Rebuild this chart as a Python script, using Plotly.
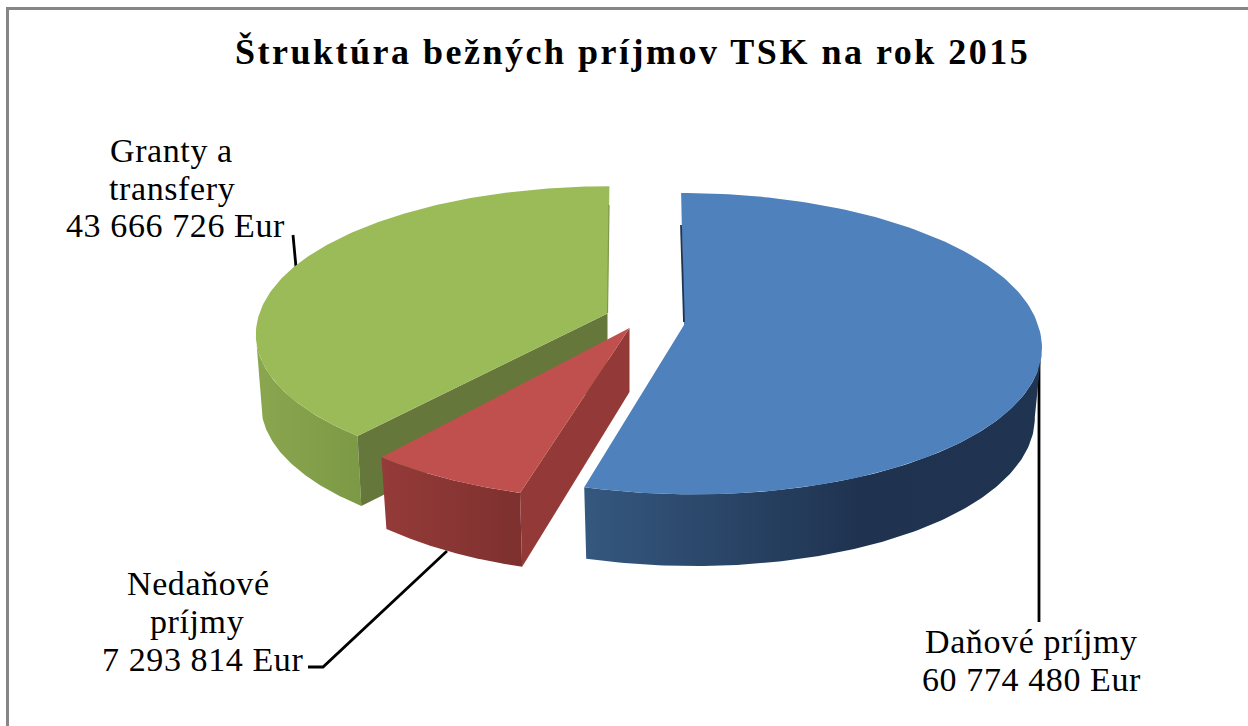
import numpy as np
import plotly.graph_objects as go

categories = ["Daňové príjmy", "Nedaňové príjmy", "Granty a transfery"]
values = [60774480, 7293814, 43666726]
title_text = "Štruktúra bežných príjmov TSK na rok 2015"
label_lines = [["Daňové príjmy", "60 774 480 Eur"],
               ["Nedaňové", "príjmy", "7 293 814 Eur"],
               ["Granty a", "transfery", "43 666 726 Eur"]]

W, H = 1248, 726
K = 0.124
RXS = [354, 354, 348]
RYS = [148.4, 151, 143]
APEX = [(684, 325), (629.5, 328), (607.5, 313.5)]
SHEAR_UP = [0.022, 0, -0.015]
SHEAR_DOWN = [0.06, 0, -0.05]
TOP = ["#4f81bd", "#c0504d", "#9bbb59"]
RIM = [[[0, "#35587f"], [0.6, "#1f3350"], [1, "#1f3450"]],
       [[0, "#953b39"], [1, "#7d302e"]],
       [[0, "#8aa64f"], [1, "#7c9945"]]]
WALL = [None, "#933a38", "#65773a"]
DEPTH0 = [70, 64, 70]
DEPTH1 = [0.01, 0.06, 0.0]
NARROW = [0.98, 0.98, 0.985]
LABEL_POS = [[(1031, 641), (1031, 679)],
             [(198, 583), (197, 621), (202, 659)],
             [(171, 150), (172, 188), (175, 225)]]
LEADERS = [[(1039, 342), (1039, 622)],
           [(308, 667), (323, 667), (447, 551)],
           [(293, 235), (296, 267)]]
SLIVERS = [[(684, 322), (681, 225), "#1e3450", 1.8], [(607.5, 313), (609, 205), "#7d9847", 1.2]]

total = sum(values)
edges = np.concatenate([[0], np.cumsum(values)]) / total * 2 * np.pi


def project(phi, i):
    s = -np.cos(phi)
    w = 1 - K * s
    dy = RYS[i] * s / w
    dx = RXS[i] * np.sin(phi) / w + np.where(dy < 0, SHEAR_UP[i], SHEAR_DOWN[i]) * dy
    return APEX[i][0] + dx, APEX[i][1] + dy


def drop(x, y, i):
    return (APEX[i][0] + (x - APEX[i][0]) * NARROW[i],
            y + DEPTH0[i] + DEPTH1[i] * (y - APEX[i][1]))


fig = go.Figure()
for line in LEADERS:
    fig.add_trace(go.Scatter(x=[p[0] for p in line], y=[p[1] for p in line], mode="lines",
                             line=dict(color="#000000", width=2.8), hoverinfo="skip"))

for i in [2, 0, 1]:
    a0, a1 = edges[i], edges[i + 1]
    ap = APEX[i]
    # visible outer wall: from the arc's silhouette point on the right to the one on the left
    t = np.linspace(a0, a1, 240)
    x, y = project(t, i)
    lo = int(np.argmax(x)) if i == 0 else 0
    hi = int(np.argmin(x)) + 1 if i == 2 else len(t)
    x, y = x[lo:hi], y[lo:hi]
    bx, by = drop(x, y, i)
    fig.add_trace(go.Scatter(
        x=np.r_[x, bx[::-1]], y=np.r_[y, by[::-1]], mode="lines", fill="toself",
        line=dict(width=0), hoverinfo="skip",
        fillgradient=dict(type="horizontal", colorscale=RIM[i])))
    # cut wall
    if WALL[i]:
        ex, ey = project(np.array([a0]), i)
        dx, dy = drop(ex, ey, i)
        ax2, ay2 = drop(np.array([ap[0]]), np.array([ap[1]]), i)
        fig.add_trace(go.Scatter(
            x=[ap[0], ex[0], dx[0], ax2[0]], y=[ap[1], ey[0], dy[0], ay2[0]],
            mode="lines", fill="toself", fillcolor=WALL[i], line=dict(width=0), hoverinfo="skip"))
    # top face
    t = np.linspace(a0, a1, 160)
    x, y = project(t, i)
    fig.add_trace(go.Scatter(
        x=np.r_[ap[0], x, ap[0]], y=np.r_[ap[1], y, ap[1]], mode="lines", fill="toself",
        fillcolor=TOP[i], line=dict(width=0), hoverinfo="skip"))

for a, b, c, w in SLIVERS:
    fig.add_trace(go.Scatter(x=[a[0], b[0]], y=[a[1], b[1]], mode="lines",
                             line=dict(color=c, width=w), hoverinfo="skip"))

ann = [dict(x=632, y=52, showarrow=False,
            text="<b><span style='letter-spacing:2.5px'>%s</span></b>" % title_text,
            font=dict(family="Liberation Serif", size=36, color="#000000"))]
for lines, pos in zip(label_lines, LABEL_POS):
    for txt, p in zip(lines, pos):
        ann.append(dict(x=p[0], y=p[1], showarrow=False,
                        text="<span style='letter-spacing:0.6px'>%s</span>" % txt,
                        font=dict(family="Liberation Serif", size=34, color="#000000")))

fig.update_layout(
    width=W, height=H, margin=dict(l=0, r=0, t=0, b=0), showlegend=False,
    paper_bgcolor="#ffffff", plot_bgcolor="#ffffff", annotations=ann,
    xaxis=dict(range=[0, W], visible=False, fixedrange=True),
    yaxis=dict(range=[H, 0], visible=False, fixedrange=True),
    shapes=[dict(type="path", path="M 7.5 %d L 7.5 8.5 L %d 8.5" % (H + 5, W + 5),
                 line=dict(color="#868686", width=3), layer="below")])
fig.write_html("out.html", config=dict(displayModeBar=False),
               post_script="document.body.style.margin='0';document.body.style.overflow='hidden';")
